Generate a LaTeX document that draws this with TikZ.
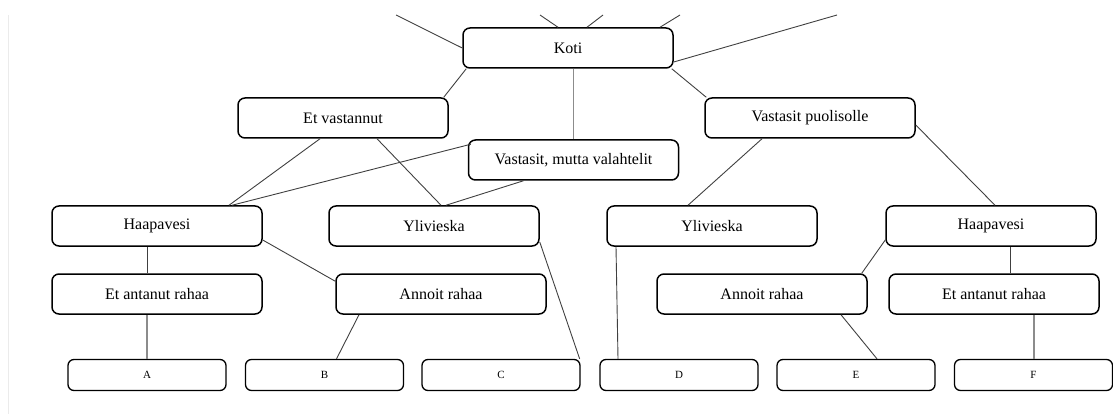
\documentclass[tikz,border=0pt]{standalone}
\usepackage{fontspec}
\setmainfont{Liberation Serif}
\tikzset{
  box/.style={draw, rounded corners=7pt, line width=1.5pt, minimum width=210pt,
    minimum height=40pt, inner sep=0pt, font=\fontsize{16}{18}\selectfont},
  leaf/.style={draw, rounded corners=6pt, line width=1.3pt, minimum width=158pt,
    minimum height=31pt, inner sep=0pt, font=\fontsize{11}{13}\selectfont},
  link/.style={draw=black!75, line width=0.9pt},
  glink/.style={draw=black!45, line width=1.1pt}
}
\begin{document}
\begin{tikzpicture}[x=1pt,y=-1pt]
\useasboundingbox (0,0) rectangle (1113,414);
\draw[black!8,line width=1pt](8,15)--(8,414);
% loose ends cut off at the top
\coordinate (t1) at (396,15);
\coordinate (t2) at (540,15);
\coordinate (t3) at (603,15);
\coordinate (t4) at (680,15);
\coordinate (t5) at (837,15);
% upper levels
\node[box] (koti) at (568,48) {Koti};
\node[box] (ev) at (343,118) {Et vastannut};
\node[box] (vp) at (810,118) {Vastasit puolisolle};
\node[box] (vm) at (573.5,160) {Vastasit, mutta valahtelit};
\node[box] (hL) at (157,226) {Haapavesi};
\node[box] (yL) at (434,226) {Ylivieska};
\node[box] (yR) at (712,226) {Ylivieska};
\node[box] (hR) at (991,226) {Haapavesi};
\node[box] (eL) at (157,294) {Et antanut rahaa};
\node[box] (aL) at (441,294) {Annoit rahaa};
\node[box] (aR) at (762,294) {Annoit rahaa};
\node[box] (eR) at (994,294) {Et antanut rahaa};
% leaves
\node[leaf] (A) at (147,375) {A};
\node[leaf] (B) at (324.5,375) {B};
\node[leaf] (C) at (501,375) {C};
\node[leaf] (D) at (679,375) {D};
\node[leaf] (E) at (856,375) {E};
\node[leaf] (F) at (1033.5,375) {F};
% links
\draw[link](t1)--(koti.west);
\draw[link](t2)--([xshift=-10pt]koti.north);
\draw[link](t3)--([xshift=19pt]koti.north);
\draw[link](t4)--([xshift=92pt]koti.north);
\draw[link]([yshift=-14pt]koti.east)--(t5);
\draw[link]([xshift=4pt]koti.south west)--([xshift=-5pt]ev.north east);
\draw[link]([xshift=-2pt]koti.south east)--([xshift=2pt]vp.north west);
\draw[glink](vm.north)--(vm.north |- koti.south);
\draw[link]([xshift=-23pt]ev.south)--([xshift=72pt]hL.north);
\draw[link]([xshift=34pt]ev.south)--([xshift=7pt]yL.north);
\draw[link]([xshift=3pt,yshift=-5pt]vm.north west)--([xshift=75pt]hL.north);
\draw[link]([xshift=-50pt]vm.south)--([xshift=12pt]yL.north);
\draw[link]([xshift=-48pt]vp.south)--([xshift=-24pt]yR.north);
\draw[link]([yshift=-7pt]vp.east)--([xshift=4pt]hR.north);
\draw[link](hL.south -| A.north)--(eL.north -| A.north);
\draw[glink](eL.south -| A.north)--(A.north);
\draw[link]([yshift=-14pt]hL.east)--([yshift=-8pt]aL.north west);
\draw[link]([xshift=-82pt]aL.south)--([xshift=12pt]B.north);
\draw[link]([yshift=-16pt]yL.east)--([xshift=-1pt]C.north east);
\draw[link]([xshift=-96pt]yR.south)--([xshift=-61pt]D.north);
\draw[link]([yshift=-14pt]hR.west)--([xshift=-6pt]aR.north east);
\draw[link]([xshift=19pt]hR.south)--([xshift=16pt]eR.north);
\draw[link]([xshift=79pt]aR.south)--([xshift=21pt]E.north);
\draw[glink,line width=2pt](eR.south -| F.north)--(F.north);
\end{tikzpicture}
\end{document}
